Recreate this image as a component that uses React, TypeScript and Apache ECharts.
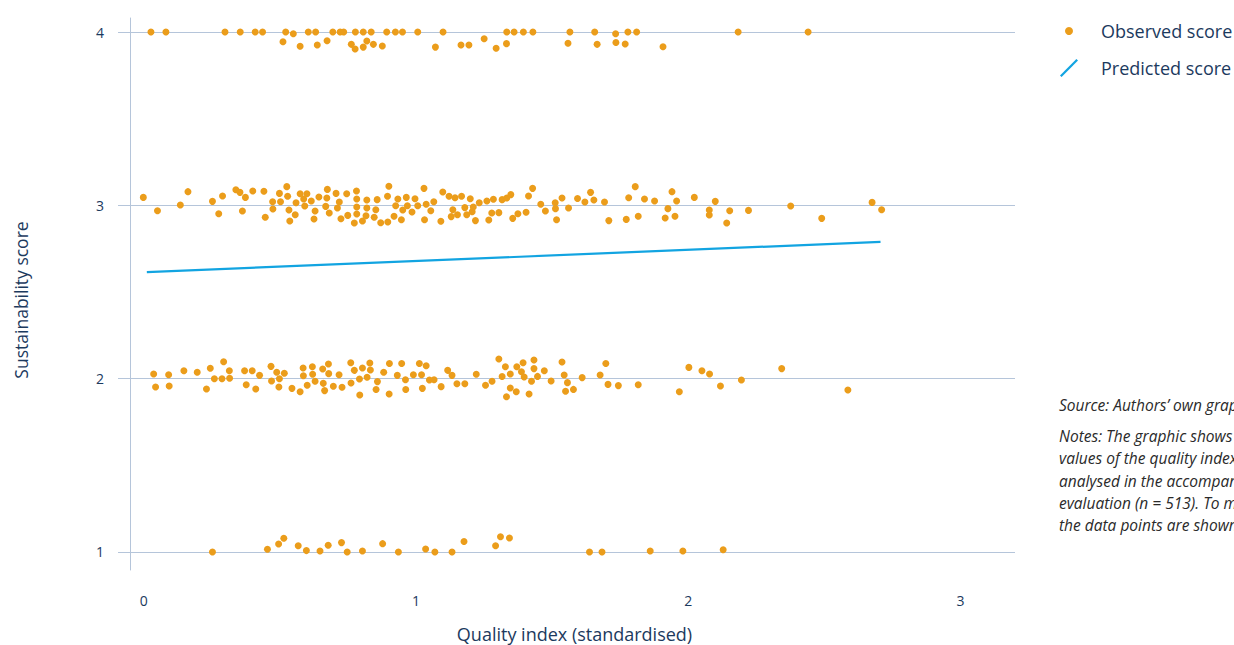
import React, { useEffect, useRef } from "react";
import * as echarts from "echarts";

// Observed scores (quality index, sustainability score incl. small jitter)
const observedScore4: [number, number][] = [
  [0.026, 4], [0.081, 4], [0.298, 4], [0.354, 4], [0.409, 4], [0.436, 4], [0.521, 4], [0.549, 3.99],
  [0.604, 4], [0.631, 4], [0.694, 4], [0.721, 4], [0.734, 4], [0.777, 4], [0.806, 4], [0.835, 4],
  [0.892, 4], [0.924, 4], [0.95, 4], [1.006, 4], [1.099, 4], [1.333, 4], [1.36, 4], [1.394, 4],
  [1.429, 4], [1.565, 4], [1.656, 4], [1.733, 3.99], [1.778, 4], [1.81, 4], [2.183, 4], [2.44, 4],
  [0.511, 3.944], [0.574, 3.918], [0.637, 3.925], [0.673, 3.95], [0.762, 3.929], [0.776, 3.902],
  [0.806, 3.913], [0.819, 3.948], [0.843, 3.929], [0.876, 3.919], [1.071, 3.913], [1.165, 3.925],
  [1.194, 3.925], [1.25, 3.961], [1.294, 3.906], [1.332, 3.933], [1.558, 3.935], [1.665, 3.929],
  [1.734, 3.94], [1.768, 3.931], [1.907, 3.915],
];

const observedScore3: [number, number][] = [
  [-0.002, 3.046], [0.05, 2.969], [0.134, 3.002], [0.162, 3.079], [0.252, 3.023], [0.275, 2.952],
  [0.289, 3.054], [0.338, 3.09], [0.353, 3.075], [0.362, 2.967], [0.373, 3.046], [0.4, 3.083],
  [0.441, 3.081], [0.446, 2.931], [0.473, 3.021], [0.474, 2.979], [0.498, 3.069], [0.502, 3.021],
  [0.525, 3.108], [0.528, 3.052], [0.533, 2.973], [0.536, 2.91], [0.556, 2.946], [0.559, 3.015],
  [0.574, 3.067], [0.587, 3.037], [0.591, 2.996], [0.599, 3.067], [0.615, 3.025], [0.625, 2.921],
  [0.629, 2.967], [0.643, 3.048], [0.668, 2.994], [0.672, 3.042], [0.674, 3.092], [0.681, 2.956],
  [0.706, 3.069], [0.711, 2.985], [0.718, 3.019], [0.724, 2.923], [0.745, 3.067], [0.749, 2.942],
  [0.773, 2.898], [0.781, 3.083], [0.782, 3.037], [0.782, 2.99], [0.782, 2.95], [0.803, 2.91],
  [0.816, 2.94], [0.819, 3.031], [0.819, 2.985], [0.846, 2.931], [0.852, 2.975], [0.857, 3.033],
  [0.87, 2.9], [0.895, 3.052], [0.896, 2.904], [0.9, 3.11], [0.919, 2.937], [0.925, 2.998],
  [0.933, 3.037], [0.946, 2.917], [0.951, 2.973], [0.964, 3.046], [0.968, 2.998], [0.985, 2.962],
  [0.996, 3.038], [1.006, 2.998], [1.029, 3.098], [1.031, 2.917], [1.037, 3.006], [1.054, 2.969],
  [1.065, 3.021], [1.091, 2.908], [1.098, 3.077], [1.121, 3.052], [1.129, 2.935], [1.135, 2.975],
  [1.143, 3.044], [1.152, 2.946], [1.167, 3.052], [1.179, 2.987], [1.186, 2.946], [1.199, 3.038],
  [1.206, 2.963], [1.21, 2.99], [1.218, 2.912], [1.232, 3.015], [1.26, 3.025], [1.267, 2.915],
  [1.278, 2.956], [1.284, 3.035], [1.304, 2.958], [1.316, 3.033], [1.333, 3.042], [1.348, 3.062],
  [1.355, 2.925], [1.374, 2.952], [1.404, 2.96], [1.413, 3.054], [1.428, 3.098], [1.458, 3.006],
  [1.475, 2.967], [1.511, 3.015], [1.512, 2.981], [1.516, 2.917], [1.536, 3.042], [1.56, 2.985],
  [1.593, 3.04], [1.62, 3.019], [1.641, 3.075], [1.653, 3.031], [1.692, 3.019], [1.708, 2.912],
  [1.772, 2.919], [1.781, 3.044], [1.805, 3.108], [1.816, 2.937], [1.839, 3.037], [1.876, 3.025],
  [1.915, 2.927], [1.925, 2.981], [1.94, 3.079], [1.951, 2.937], [1.957, 3.025], [2.022, 3.046],
  [2.077, 2.973], [2.077, 2.944], [2.099, 3.023], [2.141, 2.898], [2.152, 2.969], [2.221, 2.971],
  [2.376, 2.996], [2.49, 2.925], [2.675, 3.017], [2.71, 2.975],
];

const observedScore2: [number, number][] = [
  [0.036, 2.027], [0.043, 1.952], [0.091, 2.023], [0.093, 1.958], [0.147, 2.046], [0.196, 2.037],
  [0.23, 1.94], [0.244, 2.06], [0.259, 2.0], [0.287, 2.0], [0.293, 2.098], [0.314, 2.046],
  [0.315, 2.002], [0.37, 2.046], [0.376, 1.965], [0.398, 2.046], [0.411, 1.94], [0.425, 2.019],
  [0.467, 2.071], [0.469, 1.987], [0.488, 2.037], [0.496, 1.952], [0.498, 2.0], [0.516, 2.031],
  [0.544, 1.944], [0.574, 1.925], [0.585, 2.062], [0.586, 2.017], [0.6, 1.962], [0.619, 2.069],
  [0.62, 2.025], [0.629, 1.985], [0.657, 2.056], [0.659, 1.973], [0.664, 1.931], [0.678, 2.085],
  [0.679, 2.029], [0.696, 1.956], [0.717, 2.023], [0.728, 1.95], [0.76, 2.092], [0.761, 1.975],
  [0.773, 2.048], [0.792, 1.998], [0.793, 1.906], [0.803, 2.062], [0.82, 2.008], [0.83, 2.09],
  [0.832, 2.05], [0.853, 1.937], [0.858, 1.983], [0.881, 2.037], [0.901, 1.912], [0.902, 2.087],
  [0.931, 2.019], [0.947, 2.088], [0.961, 1.994], [0.962, 1.937], [0.99, 2.023], [1.012, 2.088],
  [1.02, 2.023], [1.023, 1.944], [1.037, 2.075], [1.049, 1.992], [1.066, 1.994], [1.092, 1.954],
  [1.116, 2.048], [1.132, 2.019], [1.15, 1.971], [1.179, 1.971], [1.221, 2.025], [1.255, 1.962],
  [1.279, 1.985], [1.304, 2.113], [1.316, 2.012], [1.328, 2.069], [1.332, 1.896], [1.346, 2.027],
  [1.346, 1.946], [1.368, 1.925], [1.37, 2.069], [1.387, 2.04], [1.393, 2.092], [1.397, 2.01],
  [1.415, 1.912], [1.424, 1.985], [1.433, 2.108], [1.433, 2.058], [1.446, 2.013], [1.471, 2.046],
  [1.496, 1.987], [1.536, 2.096], [1.544, 2.021], [1.549, 1.927], [1.556, 1.977], [1.578, 1.938],
  [1.61, 2.006], [1.676, 2.021], [1.697, 2.087], [1.705, 1.967], [1.743, 1.96], [1.816, 1.965],
  [1.967, 1.925], [2.002, 2.065], [2.05, 2.046], [2.078, 2.027], [2.118, 1.958], [2.195, 1.992],
  [2.343, 2.058], [2.586, 1.935],
];

const observedScore1: [number, number][] = [
  [0.252, 1.0], [0.454, 1.016], [0.495, 1.046], [0.514, 1.079], [0.567, 1.036], [0.597, 1.008],
  [0.647, 1.006], [0.677, 1.039], [0.726, 1.054], [0.747, 1.0], [0.803, 1.006], [0.877, 1.048],
  [0.935, 1.0], [1.035, 1.017], [1.069, 1.0], [1.132, 1.0], [1.176, 1.06], [1.292, 1.036],
  [1.31, 1.088], [1.343, 1.081], [1.637, 1.0], [1.683, 1.0], [1.86, 1.006], [1.98, 1.006],
  [2.128, 1.013],
];

// Predicted score (linear fit)
const predictedScore: [number, number][] = [
  [0.011, 2.615],
  [2.706, 2.789],
];

const xTickValues = [0, 1, 2, 3];
const yTickValues = [1, 2, 3, 4];

const sourceLine = "Source: Authors’ own graphic";
const noteLines = [
  "Notes: The graphic shows the",
  "values of the quality index and the",
  "analysed in the accompanying",
  "evaluation (n = 513). To make",
  "the data points are shown with jitter.",
];

const NAVY = "#1c3a5e";
const ORANGE = "#eb9d1b";
const BLUE = "#12a4e1";
const GRIDC = "#b5c5da";
const FONT = "'Open Sans', 'Noto Sans', sans-serif";

export default function App() {
  const ref = useRef<HTMLDivElement>(null);

  useEffect(() => {
    if (!ref.current) return;
    const chart = echarts.init(ref.current, undefined, { renderer: "svg" });

    const noteFont = `italic 15.5px ${FONT}`;
    const graphics: any[] = [
      {
        type: "text",
        x: 1059,
        y: 405,
        style: { text: sourceLine, fill: "#2a2a2a", font: noteFont, verticalAlign: "middle" },
      },
    ];
    noteLines.forEach((t, i) => {
      graphics.push({
        type: "text",
        x: 1059,
        y: 436 + i * 22.3,
        style: { text: t, fill: "#2a2a2a", font: noteFont, verticalAlign: "middle" },
      });
    });

    chart.setOption({
      animation: false,
      textStyle: { fontFamily: FONT },
      grid: {
        left: 118,
        right: 219,
        top: 18,
        bottom: 75,
        containLabel: false,
        outerBoundsMode: "none",
      },
      legend: [
        {
          data: [{ name: "Observed score", icon: "circle" }],
          orient: "vertical",
          left: 1065,
          top: 21,
          padding: 0,
          itemWidth: 54,
          itemHeight: 8,
          textStyle: { color: NAVY, fontSize: 18, lineHeight: 20, fontFamily: FONT },
        },
        {
          data: [
            {
              name: "Predicted score",
              icon: "path://M0,16.4 L16.4,0 L18,1.6 L1.6,18 Z",
              itemStyle: { color: BLUE },
            },
          ],
          orient: "vertical",
          left: 1060,
          top: 58,
          padding: 0,
          itemWidth: 54,
          itemHeight: 18,
          textStyle: { color: NAVY, fontSize: 18, lineHeight: 20, fontFamily: FONT },
        },
      ],
      xAxis: {
        type: "value",
        min: -0.095,
        max: 3.2,
        name: "Quality index (standardised)",
        nameLocation: "middle",
        nameGap: 55,
        nameTextStyle: { color: NAVY, fontSize: 18, fontFamily: FONT, padding: [0, 0, 0, 16] },
        axisLine: { show: false, onZero: false },
        axisTick: { show: false },
        splitLine: { show: false },
        axisLabel: {
          customValues: xTickValues,
          color: NAVY,
          fontSize: 14,
          margin: 23,
          fontFamily: FONT,
        },
      },
      yAxis: {
        type: "value",
        min: 0.896,
        max: 4.081,
        offset: -12,
        name: "Sustainability score",
        nameLocation: "middle",
        nameGap: 100,
        nameTextStyle: { color: NAVY, fontSize: 17.5, fontFamily: FONT, padding: [0, 12, 0, 0] },
        axisLine: { show: true, onZero: false, lineStyle: { color: GRIDC, width: 1 } },
        axisTick: { show: false },
        splitLine: { show: false },
        axisLabel: {
          customValues: yTickValues,
          color: NAVY,
          fontSize: 14,
          margin: 26,
          fontFamily: FONT,
        },
      },
      series: [
        {
          name: "Observed score",
          type: "scatter",
          symbolSize: 7,
          itemStyle: { color: ORANGE, opacity: 1 },
          z: 3,
          data: [...observedScore4, ...observedScore3, ...observedScore2, ...observedScore1],
          markLine: {
            silent: true,
            z: 1,
            symbol: "none",
            label: { show: false },
            lineStyle: { color: GRIDC, width: 1, type: "solid" },
            data: yTickValues.map((v) => ({ yAxis: v })),
          },
        },
        {
          name: "Predicted score",
          type: "line",
          showSymbol: false,
          symbol: "none",
          z: 4,
          itemStyle: { color: BLUE },
          lineStyle: { color: BLUE, width: 2.2 },
          data: predictedScore,
        },
      ],
      graphic: graphics,
    });

    return () => chart.dispose();
  }, []);

  return <div ref={ref} style={{ width: 1234, height: 645, position: "absolute", left: 0, top: 0 }} />;
}
